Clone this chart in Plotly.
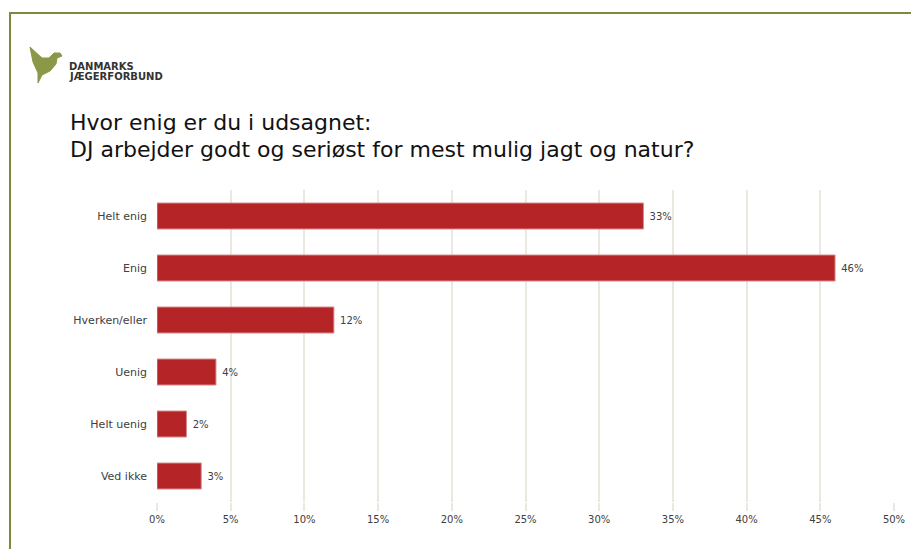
import plotly.graph_objects as go

categories = ["Helt enig", "Enig", "Hverken/eller", "Uenig", "Helt uenig", "Ved ikke"]
values = [33, 46, 12, 4, 2, 3]
x_ticks = [0, 5, 10, 15, 20, 25, 30, 35, 40, 45, 50]
x_tick_labels = [f"{v}%" for v in x_ticks]
data_labels = [f"\u00a0{v}%" for v in values]

W, H = 911, 549
L, R, T, B = 157, 17, 190, 47
pw = W - L - R
ph = H - T - B

def px(x):
    return (x - L) / pw

def py(y):
    return (H - B - y) / ph

fig = go.Figure(go.Bar(
    x=values, y=categories, orientation="h",
    marker=dict(color="#b52427", line=dict(color="#d98a8a", width=1)),
    width=0.5,
    text=data_labels, textposition="outside",
    textfont=dict(family="DejaVu Sans", size=10, color="#404040"),
    cliponaxis=False,
    hoverinfo="skip",
))

fig.update_layout(
    width=W, height=H,
    margin=dict(l=L, r=R, t=T, b=B),
    paper_bgcolor="white", plot_bgcolor="white",
    showlegend=False,
    bargap=0.5,
    font=dict(family="DejaVu Sans", color="#404040"),
)
fig.update_xaxes(
    range=[0, 50], tickvals=x_ticks, ticktext=x_tick_labels,
    automargin=False,
    showgrid=True, gridcolor="#e9e9df", gridwidth=1.5,
    zeroline=False, showline=False,
    ticks="outside", ticklen=8, tickcolor="#e9e9df", tickwidth=1.5,
    tickfont=dict(size=10, color="#404040"),
)
fig.update_yaxes(
    autorange="reversed", automargin=False,
    showgrid=False, zeroline=False, showline=False,
    ticks="", ticklabelstandoff=9,
    tickfont=dict(size=11, color="#404040"),
)

# Outer border
fig.add_shape(type="rect", xref="paper", yref="paper",
              x0=px(10), x1=px(925), y0=py(565), y1=py(13),
              line=dict(color="#7d8a3e", width=2), fillcolor="rgba(0,0,0,0)", layer="below")

# Title
fig.add_annotation(xref="paper", yref="paper", x=px(68), y=py(122),
                   xanchor="left", yanchor="middle", showarrow=False,
                   text="Hvor enig er du i udsagnet:",
                   font=dict(family="DejaVu Sans", size=22, color="#111111"))
fig.add_annotation(xref="paper", yref="paper", x=px(68), y=py(149),
                   xanchor="left", yanchor="middle", showarrow=False,
                   text="DJ arbejder godt og seriøst for mest mulig jagt og natur?",
                   font=dict(family="DejaVu Sans", size=22, color="#111111"))

# Logo text
fig.add_annotation(xref="paper", yref="paper", x=px(67), y=py(66),
                   xanchor="left", yanchor="middle", showarrow=False,
                   text="<b>DANMARKS</b>",
                   font=dict(family="DejaVu Sans", size=10, color="#333333"))
fig.add_annotation(xref="paper", yref="paper", x=px(67), y=py(77),
                   xanchor="left", yanchor="middle", showarrow=False,
                   text="<b>JÆGERFORBUND</b>",
                   font=dict(family="DejaVu Sans", size=10, color="#333333"))

# Logo duck (decorative)
pts = [(30, 47), (42, 58), (49, 58), (54, 53), (60, 53), (62, 56), (57, 58), (56, 64),
       (50, 71), (42, 75), (38, 83), (38, 73), (33, 62)]
path = "M " + " L ".join(f"{px(x)},{py(y)}" for x, y in pts) + " Z"
fig.add_shape(type="path", xref="paper", yref="paper", path=path,
              fillcolor="#8a9848", line=dict(color="#8a9848", width=1))

fig.write_html("out.html", config={"displayModeBar": False},
               post_script="document.body.style.margin='0px';")
